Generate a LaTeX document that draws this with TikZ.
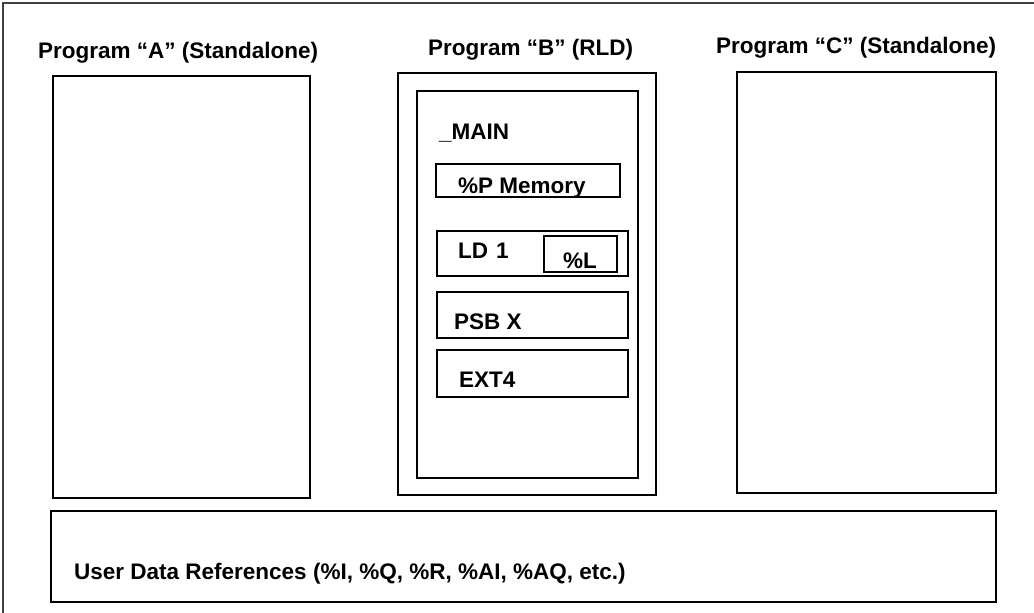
\documentclass[tikz,border=0pt]{standalone}
\usepackage{fontspec}
\setmainfont{Liberation Sans}
\usepackage{tikz}
\usetikzlibrary{positioning}
\tikzset{
  x=1pt, y=-1pt,
  box/.style={draw, line width=1.6pt, inner sep=0pt, anchor=north west},
  lbl/.style={inner sep=0pt, anchor=base west,
    font=\fontsize{22.5}{27}\selectfont\bfseries},
}

\begin{document}
\begin{tikzpicture}
      \useasboundingbox (0,0) rectangle (1034,613);
      \draw[line width=1.4pt, black!75] (3,613) -- (3,3) -- (1034,3);

      % the three programs
      \node[box, minimum width=257, minimum height=422] (progA) at (52,75) {};
      \node[box, minimum width=258, minimum height=422] (progB) at (397,72) {};
      \node[box, minimum width=259, minimum height=421] (progC) at (736,71) {};
      \node[lbl] (titleA) at (38,58) {Program “A” (Standalone)};
      \node[lbl] (titleB) at (428,55) {Program “B” (RLD)};
      \node[lbl] (titleC) at (716,53) {Program “C” (Standalone)};

      % blocks of the RLD program
      \node[box, minimum width=221, minimum height=387] (rldMain) at (416,90) {};
      \node[lbl] (mainText) at (439,139) {\_MAIN};
      \node[box, minimum width=184, minimum height=33] (pMem) at (435,163) {};
      \node[lbl] (pMemText) at (458,193) {\%P Memory};
      \node[box, minimum width=191, minimum height=45] (ldOne) at (436,230) {};
      \node[box, minimum width=73, minimum height=36] (lMem) at (543,235) {};
      \node[lbl] (ldText) at (458,258) {LD\hspace{8pt}1};
      \node[lbl] (lText) at (563,268) {\%L};
      \node[box, minimum width=191, minimum height=46] (psbX) at (436,291) {};
      \node[lbl] (psbText) at (454,329) {PSB X};
      \node[box, minimum width=191, minimum height=47] (extFour) at (436,349) {};
      \node[lbl] (extText) at (459,387) {EXT4};

      % shared data
      \node[box, minimum width=945, minimum height=91] (userData) at (50,510) {};
      \node[lbl] (userText) at (74,579) {User Data References (\%I, \%Q, \%R, \%AI, \%AQ, etc.)};
    \end{tikzpicture}
\end{document}
